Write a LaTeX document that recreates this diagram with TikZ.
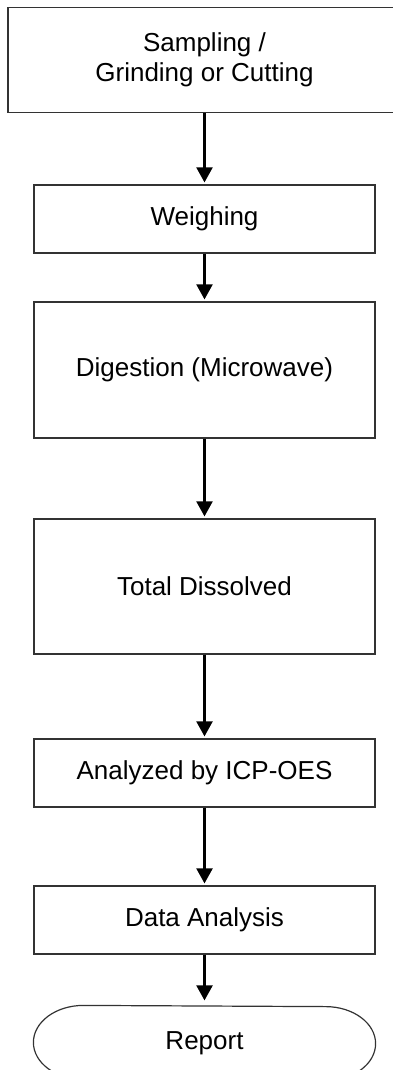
\documentclass[tikz,border=0pt]{standalone}
\usepackage{fontspec}
\setmainfont{Liberation Sans}
\usetikzlibrary{arrows.meta}
\begin{document}
\begin{tikzpicture}[x=1pt,y=-1pt,
  stepbox/.style={draw=black!80, line width=1.2pt, rectangle, inner sep=0pt,
    minimum width=341pt, align=center, font=\fontsize{26}{30}\selectfont},
  flow/.style={line width=2.2pt, -{Triangle[length=15pt,width=16pt]}, shorten >=2pt}]
\clip (0,0) rectangle (393,1070);
% Schritte
\node[stepbox, minimum width=393pt, minimum height=105pt] (sampling) at (204.5,60) {Sampling /\\Grinding or Cutting};
\node[stepbox, minimum height=68pt] (weighing) at (204.5,219) {Weighing};
\node[stepbox, minimum height=136pt] (digestion) at (204.5,370) {Digestion (Microwave)};
\node[stepbox, minimum height=135pt] (dissolved) at (204.5,586.5) {Total Dissolved};
\node[stepbox, minimum height=68pt] (icp) at (204.5,773) {Analyzed by ICP-OES};
\node[stepbox, minimum height=68pt] (data) at (204.5,920) {Data Analysis};
% Ende
\node[stepbox, draw=none, minimum height=74pt] (report) at (204.5,1043) {Report};
\draw[draw=black!80, line width=1.2pt, line join=round] ([xshift=-50pt]report.south east)
  arc[start angle=-90, end angle=90, x radius=50pt, y radius=37pt]
  -- ([xshift=50pt]report.north west)
  arc[start angle=90, end angle=270, x radius=50pt, y radius=37pt] -- cycle;
% Pfeile
\draw[flow] (sampling.south) -- (weighing.north);
\draw[flow] (weighing) -- (digestion);
\draw[flow] (digestion) -- (dissolved);
\draw[flow] (dissolved) -- (icp);
\draw[flow] (icp) -- (data);
\draw[flow, shorten >=5pt] (data) -- (report);
\end{tikzpicture}
\end{document}
